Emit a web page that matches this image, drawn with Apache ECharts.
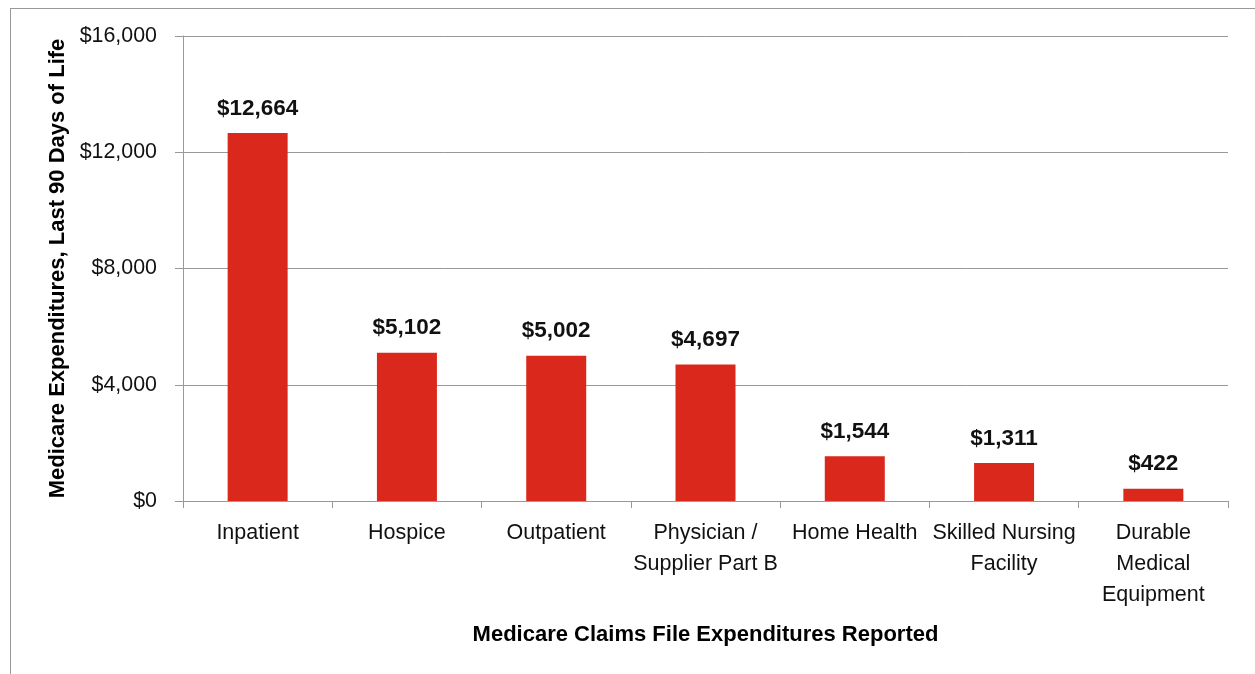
<!DOCTYPE html>
<html><head><meta charset="utf-8">
<script src="https://cdn.jsdelivr.net/npm/echarts@6/dist/echarts.min.js"></script>
<style>html,body{margin:0;padding:0;background:#fff}#c{width:1255px;height:674px}
#frame{position:absolute;left:10px;top:8px;width:1260px;height:700px;border:1px solid #999;box-sizing:border-box;pointer-events:none}</style>
</head><body><div id="frame"></div><div id="c"></div>
<script>
var categories = ['Inpatient','Hospice','Outpatient','Physician /\nSupplier Part B','Home Health','Skilled Nursing\nFacility','Durable\nMedical\nEquipment'];
var values = [12664, 5102, 5002, 4697, 1544, 1311, 422];
var yTicks = {min:0, max:16000, interval:4000};
var FONT = '"Liberation Sans",Arial,sans-serif';
var chart = echarts.init(document.getElementById('c'));
chart.setOption({
  animation:false,
  grid:{left:183,right:27,top:36,bottom:173,containLabel:false},
  xAxis:{type:'category',data:categories,
    name:'Medicare Claims File Expenditures Reported',nameLocation:'middle',nameGap:123,
    nameTextStyle:{fontFamily:FONT,fontWeight:'bold',fontSize:22,color:'#000'},
    axisLine:{lineStyle:{color:'#999',width:1}},
    axisTick:{show:true,length:7,alignWithLabel:false,lineStyle:{color:'#999'}},
    axisLabel:{fontFamily:FONT,fontSize:21.5,color:'#111',margin:17,lineHeight:31,interval:0}},
  yAxis:{type:'value',min:yTicks.min,max:yTicks.max,interval:yTicks.interval,
    name:'Medicare Expenditures, Last 90 Days of Life',nameLocation:'middle',nameGap:105,
    nameTextStyle:{fontFamily:FONT,fontWeight:'bold',fontSize:22,color:'#000'},
    axisLine:{show:true,lineStyle:{color:'#999'}},
    axisTick:{show:true,length:8,lineStyle:{color:'#999'}},
    splitLine:{lineStyle:{color:'#999',width:1}},
    axisLabel:{fontFamily:FONT,fontSize:21.4,color:'#111',margin:26,
      formatter:function(v){return '$'+v.toLocaleString('en-US');}}},
  series:[{type:'bar',data:values,barWidth:60,
    itemStyle:{color:'#DA291C'},
    label:{show:true,position:'top',distance:13,fontFamily:FONT,fontWeight:'bold',fontSize:22.5,color:'#111',
      formatter:function(p){return '$'+p.value.toLocaleString('en-US');}}}]
});
</script></body></html>
